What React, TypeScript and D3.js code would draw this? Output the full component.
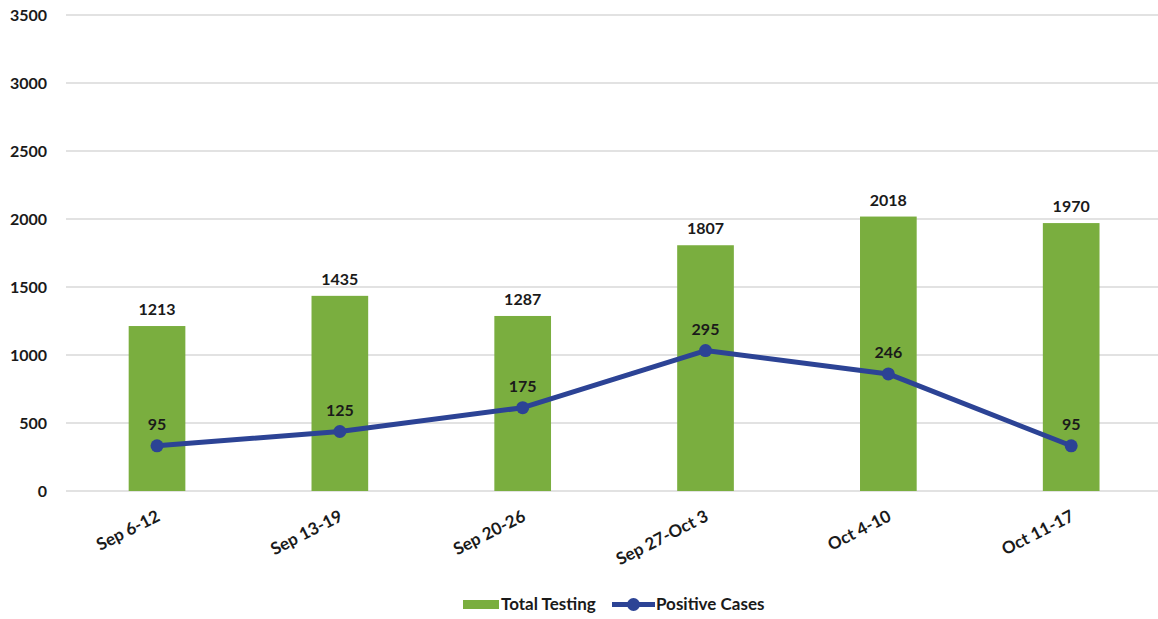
import React from "react";
import * as d3 from "d3";

const categories = ["Sep 6-12", "Sep 13-19", "Sep 20-26", "Sep 27-Oct 3", "Oct 4-10", "Oct 11-17"];
const totalTesting = [1213, 1435, 1287, 1807, 2018, 1970];
const positiveCases = [95, 125, 175, 295, 246, 95];
const leftTicks = [0, 500, 1000, 1500, 2000, 2500, 3000, 3500];

const W = 1158;
const H = 619;
const FONT = "Lato, 'Open Sans', sans-serif";
const GREEN = "#7aae3f";
const BLUE = "#2c4395";
const TXT = "#1a1a1a";

export default function App() {
  const x = d3.scaleBand<string>().domain(categories).range([65.6, 1162.6]).paddingInner(0.69).paddingOuter(0.345);
  const y = d3.scaleLinear().domain([0, 3500]).range([491, 15]);
  const y2 = d3.scaleLinear().domain([0, 1000]).range([491, 15]);
  const cx = (c: string) => (x(c) as number) + x.bandwidth() / 2;
  const line = d3
    .line<number>()
    .x((_, i) => cx(categories[i]))
    .y((d) => y2(d));

  return (
    <svg width={W} height={H} style={{ position: "absolute", left: 0, top: 0, background: "#fff" }}>
      <rect width={W} height={H} fill="#fff" />
      {leftTicks.map((t) => (
        <g key={t}>
          <line x1={66} x2={W} y1={y(t)} y2={y(t)} stroke="#d9d9d9" strokeWidth={1.3} />
          <text x={47} y={y(t)} dy="0.35em" textAnchor="end" fontFamily={FONT} fontWeight="bold" fontSize={16} fill={TXT}>
            {t}
          </text>
        </g>
      ))}
      {categories.map((c, i) => (
        <g key={c}>
          <rect x={x(c)} y={y(totalTesting[i])} width={x.bandwidth()} height={y(0) - y(totalTesting[i])} fill={GREEN} />
          <text x={cx(c)} y={y(totalTesting[i]) - 11} textAnchor="middle" fontFamily={FONT} fontWeight="bold" fontSize={16} fill={TXT}>
            {totalTesting[i]}
          </text>
          <text
            transform={`translate(${cx(c) + 4},${520}) rotate(-27)`}
            textAnchor="end"
            fontFamily={FONT}
            fontWeight="bold"
            fontSize={17}
            fill={TXT}
          >
            {c}
          </text>
        </g>
      ))}
      <path d={line(positiveCases) as string} fill="none" stroke={BLUE} strokeWidth={5} strokeLinejoin="round" />
      {positiveCases.map((v, i) => (
        <g key={i}>
          <circle cx={cx(categories[i])} cy={y2(v)} r={6.5} fill={BLUE} />
          <text x={cx(categories[i])} y={y2(v) - 16} textAnchor="middle" fontFamily={FONT} fontWeight="bold" fontSize={16} fill={TXT}>
            {v}
          </text>
        </g>
      ))}
      <g>
        <rect x={463} y={600} width={36} height={9} fill={GREEN} />
        <text x={501} y={604} dy="0.35em" fontFamily={FONT} fontWeight="bold" fontSize={17} fill={TXT}>
          Total Testing
        </text>
        <line x1={612} x2={655} y1={604.5} y2={604.5} stroke={BLUE} strokeWidth={5} />
        <circle cx={633.5} cy={604.5} r={6.5} fill={BLUE} />
        <text x={656} y={604} dy="0.35em" fontFamily={FONT} fontWeight="bold" fontSize={17} fill={TXT}>
          Positive Cases
        </text>
      </g>
    </svg>
  );
}
